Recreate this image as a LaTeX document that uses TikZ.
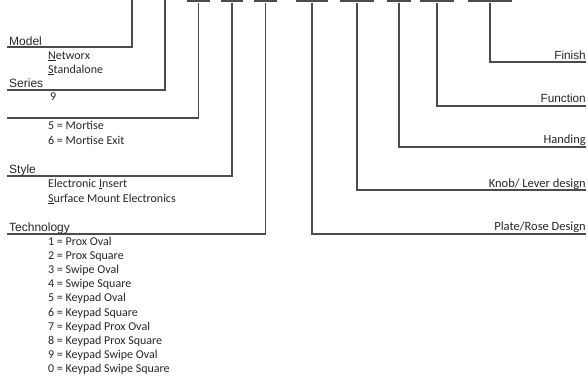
\documentclass[tikz,border=0pt]{standalone}
\usepackage{fontspec}
\setmainfont{Liberation Sans}
\newfontfamily\calfam{Carlito}
\begin{document}
\begin{tikzpicture}[x=1pt,y=-1pt,
  conn/.style={draw=black!70,line width=1.3pt},
  bar/.style={fill=black!70,inner sep=0pt,minimum height=2.2pt,anchor=north},
  head/.style={anchor=base west,inner sep=0pt,font=\fontsize{12}{14}\selectfont,text=black!85},
  item/.style={anchor=base west,inner sep=0pt,font=\calfam\fontsize{12}{14}\selectfont,text=black!85},
  rlab/.style={anchor=base east,inner sep=0pt,font=\calfam\fontsize{12.5}{14}\selectfont,text=black!85},
  rlabA/.style={anchor=base east,inner sep=0pt,font=\fontsize{11.8}{14}\selectfont,text=black!85}]
\useasboundingbox (0,0) rectangle (588,375);
% top blanks
\node[bar,minimum width=23pt] (b3) at (198.5,0) {};
\node[bar,minimum width=22pt] (b4) at (232,0) {};
\node[bar,minimum width=23pt] (b5) at (265.5,0) {};
\node[bar,minimum width=32pt] (b6) at (312,0) {};
\node[bar,minimum width=34pt] (b7) at (357,0) {};
\node[bar,minimum width=24pt] (b8) at (399,0) {};
\node[bar,minimum width=34pt] (b9) at (437,0) {};
\node[bar,minimum width=44pt] (b10) at (490,0) {};
\coordinate (t1) at (132,0);
\coordinate (t2) at (165,0);
% ends
\coordinate (e1) at (7,47);
\coordinate (e2) at (7,90);
\coordinate (e3) at (7,118);
\coordinate (e4) at (7,176);
\coordinate (e5) at (7,234);
\coordinate (e6) at (586,234);
\coordinate (e7) at (586,190);
\coordinate (e8) at (586,147);
\coordinate (e9) at (586,106);
\coordinate (e10) at (586,62);
% connectors
\draw[conn] (t1) |- (e1);
\draw[conn] (t2) |- (e2);
\draw[conn] (b3.south) |- (e3);
\draw[conn] (b4.south) |- (e4);
\draw[conn] (b5.south) |- (e5);
\draw[conn] (b6.south) |- (e6);
\draw[conn] (b7.south) |- (e7);
\draw[conn] (b8.south) |- (e8);
\draw[conn] (b9.south) |- (e9);
\draw[conn] (b10.south) |- (e10);
% left labels
\node[head] (model) at (9,45) {Model};
\node[item] (n1) at (48,59) {\underline{N}etworx};
\node[item] (n2) at (48,73) {\underline{S}tandalone};
\node[head] (series) at (9,87) {Series};
\node[item] (s1) at (50,100) {9};
\node[item] (m1) at (48,129) {5 = Mortise};
\node[item] (m2) at (48,144) {6 = Mortise Exit};
\node[head] (style) at (9,173) {Style};
\node[item] (st1) at (48,187) {Electronic \underline{I}nsert};
\node[item] (st2) at (48,202) {\underline{S}urface Mount Electronics};
\node[head] (tech) at (9,231) {Technology};
\node[item] (k1) at (48,245) {1 = Prox Oval};
\node[item] (k2) at (48,259.2) {2 = Prox Square};
\node[item] (k3) at (48,273.4) {3 = Swipe Oval};
\node[item] (k4) at (48,287.6) {4 = Swipe Square};
\node[item] (k5) at (48,301.8) {5 = Keypad Oval};
\node[item] (k6) at (48,316) {6 = Keypad Square};
\node[item] (k7) at (48,330.2) {7 = Keypad Prox Oval};
\node[item] (k8) at (48,344.4) {8 = Keypad Prox Square};
\node[item] (k9) at (48,358.6) {9 = Keypad Swipe Oval};
\node[item] (k0) at (48,372.8) {0 = Keypad Swipe Square};
% right labels
\node[rlabA] (fin) at (586,59) {Finish};
\node[rlabA] (fun) at (586,102) {Function};
\node[rlab] (han) at (586,143) {Handing};
\node[rlab] (knob) at (586,187) {Knob/ Lever design};
\node[rlab] (plate) at (586,230) {Plate/Rose Design};
\end{tikzpicture}
\end{document}
